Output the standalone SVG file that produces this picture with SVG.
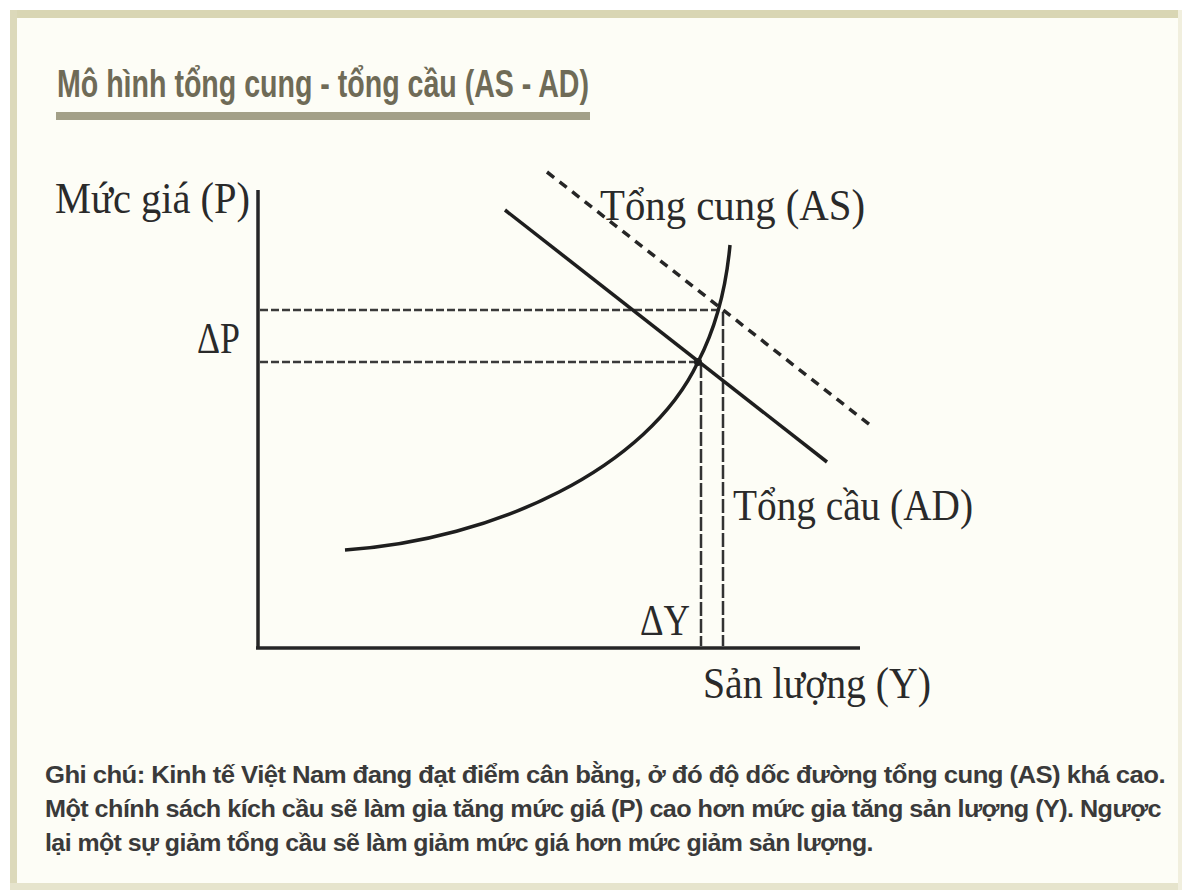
<svg xmlns="http://www.w3.org/2000/svg" width="1184" height="890" viewBox="0 0 1184 890">
<style>
.serif{font-family:"Liberation Serif","DejaVu Serif",serif;fill:#2a2a2a;font-size:44px}
.cap{font-family:"Liberation Sans","DejaVu Sans",sans-serif;fill:#3a3a3a;font-size:23px;font-weight:bold;letter-spacing:-0.5px}
.ttl{font-family:"Liberation Sans","DejaVu Sans",sans-serif;fill:#6f6b57;font-size:38px;font-weight:bold}
.axis{stroke:#262626;stroke-width:3.5;fill:none}
.solid{stroke:#1e1e1e;stroke-width:3.5;fill:none}
.dashH{stroke:#3a3a3a;stroke-width:2.5;stroke-dasharray:8 3;fill:none}
.dashV{stroke:#333;stroke-width:2.5;stroke-dasharray:14 3;fill:none}
.dashD{stroke:#262626;stroke-width:3.5;stroke-dasharray:9 7;fill:none}
</style>
<rect x="0" y="0" width="1184" height="890" fill="#ffffff"/>
<rect x="10" y="10" width="1172" height="880" fill="#fdfdf6"/>
<rect x="10" y="10" width="1172" height="8" fill="#d9d6b4"/>
<rect x="10" y="10" width="7" height="880" fill="#dcd9ba"/>
<rect x="10" y="883" width="1172" height="7" fill="#e6e4cc"/>
<rect x="1178" y="10" width="4" height="880" fill="#f1efde"/>

<g id="title">
<text class="ttl" x="57" y="97" textLength="532" lengthAdjust="spacingAndGlyphs">Mô hình tổng cung - tổng cầu (AS - AD)</text>
<rect x="56" y="112" width="534" height="8" fill="#a3a088"/>
</g>

<g id="axes">
<line class="axis" x1="258" y1="190" x2="258" y2="648"/>
<line class="axis" x1="256" y1="648" x2="860" y2="648"/>
</g>

<g id="connectors">
<line class="dashH" x1="260" y1="310" x2="722" y2="310"/>
<line class="dashH" x1="260" y1="362" x2="698" y2="362"/>
<line class="dashV" x1="701" y1="364" x2="701" y2="646"/>
<line class="dashV" x1="723" y1="312" x2="723" y2="646"/>
<line class="dashD" x1="547" y1="172" x2="870" y2="425"/>
<line class="solid" x1="505" y1="210" x2="827" y2="462"/>
<path class="solid" d="M345,550 C495,540 648,468 698,362 C712,335 725,300 730,245"/>
<circle cx="698" cy="362" r="4" fill="#1e1e1e"/>
</g>

<g id="labels">
<text class="serif" x="55" y="213" textLength="195" lengthAdjust="spacingAndGlyphs">Mức giá (P)</text>
<text class="serif" x="197" y="353" textLength="43" lengthAdjust="spacingAndGlyphs">ΔP</text>
<text class="serif" x="600" y="220" textLength="265" lengthAdjust="spacingAndGlyphs">Tổng cung (AS)</text>
<text class="serif" x="733" y="520" textLength="240" lengthAdjust="spacingAndGlyphs">Tổng cầu (AD)</text>
<text class="serif" x="640" y="635" textLength="50" lengthAdjust="spacingAndGlyphs">ΔY</text>
<text class="serif" x="703" y="698" textLength="228" lengthAdjust="spacingAndGlyphs">Sản lượng (Y)</text>
</g>

<g id="caption">
<text class="cap" x="45" y="783" textLength="1120" lengthAdjust="spacingAndGlyphs">Ghi chú: Kinh tế Việt Nam đang đạt điểm cân bằng, ở đó độ dốc đường tổng cung (AS) khá cao.</text>
<text class="cap" x="45" y="817" textLength="1116" lengthAdjust="spacingAndGlyphs">Một chính sách kích cầu sẽ làm gia tăng mức giá (P) cao hơn mức gia tăng sản lượng (Y). Ngược</text>
<text class="cap" x="45" y="851" textLength="828" lengthAdjust="spacingAndGlyphs">lại một sự giảm tổng cầu sẽ làm giảm mức giá hơn mức giảm sản lượng.</text>
</g>
</svg>
